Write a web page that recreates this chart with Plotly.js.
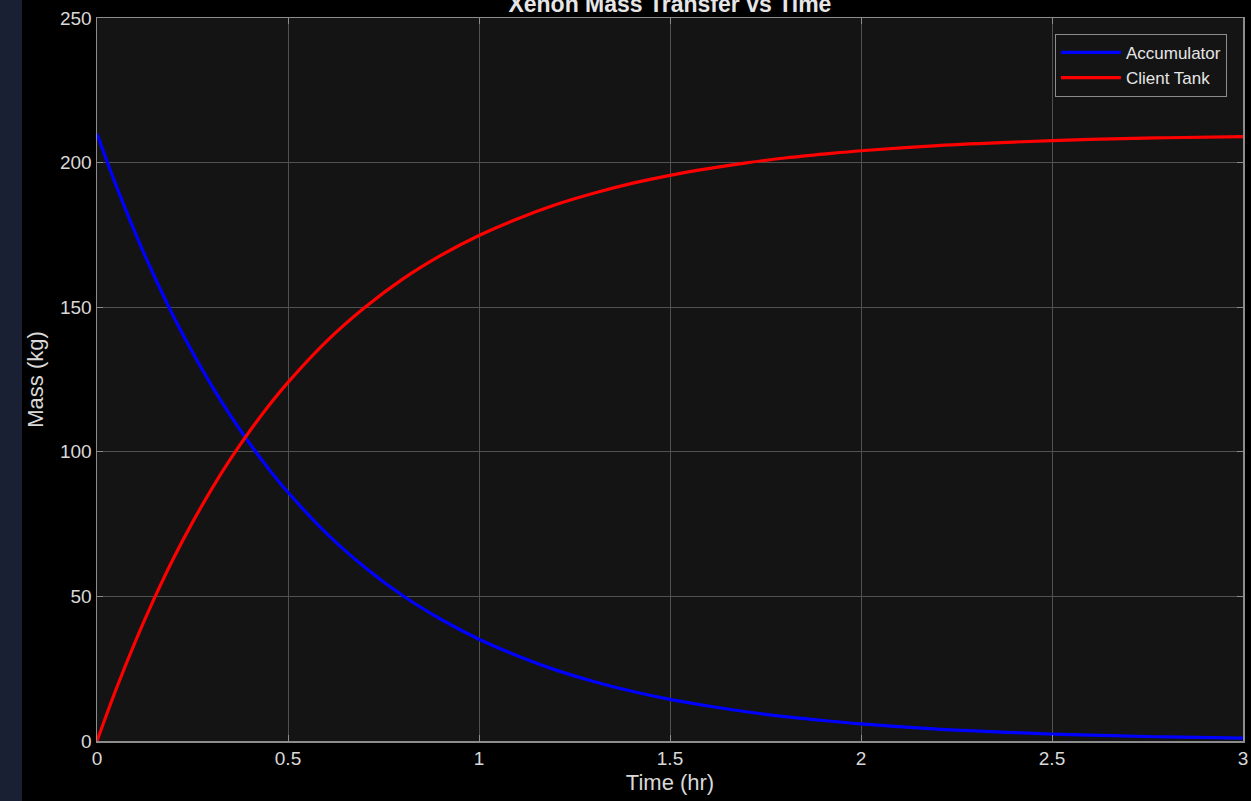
<!DOCTYPE html>
<html>
<head>
<meta charset="utf-8">
<script src="https://cdn.plot.ly/plotly-3.0.1.min.js"></script>
<style>html,body{margin:0;padding:0;background:#000;}#chart{width:1251px;height:801px;}</style>
</head>
<body>
<div id="chart"></div>
<script>
const timeHr = [0,0.05,0.1,0.15,0.2,0.25,0.3,0.35,0.4,0.45,0.5,0.6,0.7,0.8,0.9,1.0,1.1,1.2,1.3,1.4,1.5,1.6,1.7,1.8,1.9,2.0,2.2,2.4,2.6,2.8,3.0];
const accumulatorKg = [210,192.1,175.7,160.7,146.9,134.4,122.9,112.4,102.8,94.0,86.0,71.9,60.2,50.3,42.1,35.2,29.5,24.6,20.6,17.2,14.4,12.1,10.1,8.4,7.1,5.9,4.1,2.9,2.0,1.4,1.0];
const clientTankKg = [0,17.9,34.3,49.3,63.1,75.6,87.1,97.6,107.2,116.0,124.0,138.1,149.8,159.7,167.9,174.8,180.5,185.4,189.4,192.8,195.6,197.9,199.9,201.6,202.9,204.1,205.9,207.1,208.0,208.6,209.0];
const xTicks = [0,0.5,1,1.5,2,2.5,3];
const xTickLabels = ['0','0.5','1','1.5','2','2.5','3'];
const yTicks = [0,50,100,150,200,250];
const yTickLabels = ['0','50','100','150','200','250'];

const FONT = 'Liberation Sans, Arial, sans-serif';

const traces = [
  {x: timeHr, y: accumulatorKg, name: 'Accumulator', mode: 'lines', line: {color: '#0000ff', width: 3.2, shape: 'spline'}},
  {x: timeHr, y: clientTankKg, name: 'Client Tank', mode: 'lines', line: {color: '#ff0000', width: 3.2, shape: 'spline'}}
];

const axisCommon = {
  showline: true, linecolor: '#8c8c8c', linewidth: 1.5, mirror: 'ticks',
  ticks: 'inside', ticklen: 6, tickcolor: '#8c8c8c', tickwidth: 1,
  showgrid: true, gridcolor: '#505050', gridwidth: 1, zeroline: false,
  tickfont: {family: FONT, size: 19, color: '#d9d9d9'}
};

const layout = {
  width: 1251, height: 801,
  paper_bgcolor: '#000000', plot_bgcolor: '#141414',
  margin: {l: 97, r: 8, t: 18, b: 60},
  font: {family: FONT, color: '#d9d9d9'},
  title: {text: '<b>Xenon Mass Transfer vs Time</b>', x: 0.5355, xanchor: 'center', xref: 'container',
          y: 0.995, yref: 'container', yanchor: 'middle',
          font: {family: FONT, size: 23, color: '#e6e6e6'}},
  xaxis: Object.assign({}, axisCommon, {range: [0, 3], tickvals: xTicks, ticktext: xTickLabels,
    title: {text: 'Time (hr)', standoff: 6, font: {family: FONT, size: 22, color: '#d9d9d9'}}}),
  yaxis: Object.assign({}, axisCommon, {range: [0, 250], tickvals: yTicks, ticktext: yTickLabels,
    title: {text: 'Mass (kg)', standoff: 10, font: {family: FONT, size: 22, color: '#d9d9d9'}}}),
  legend: {x: 0.986, xanchor: 'right', y: 0.978, yanchor: 'top', bgcolor: '#141414', bordercolor: '#8c8c8c', borderwidth: 1,
    font: {family: FONT, size: 17, color: '#e6e6e6'}, tracegroupgap: 0, itemwidth: 60},
  showlegend: true,
  shapes: [
    {type: 'rect', xref: 'paper', yref: 'paper', x0: -97/1146, x1: -75/1146, y0: -60/723, y1: 801/723, fillcolor: '#1a2034', line: {width: 0}, layer: 'below'}
  ]
};

Plotly.newPlot('chart', traces, layout, {displayModeBar: false, staticPlot: true});
</script>
</body>
</html>
